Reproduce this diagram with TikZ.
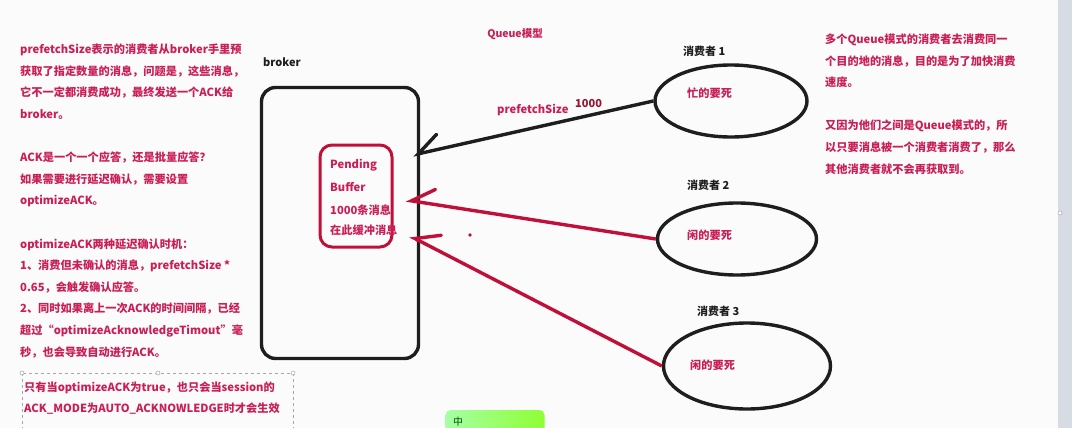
\documentclass[tikz,border=0pt]{standalone}
\usepackage{fontspec}
\setmainfont{Noto Sans CJK SC}
\usetikzlibrary{arrows.meta,shapes.geometric}
\definecolor{txtred}{RGB}{202,30,86}
\definecolor{linered}{RGB}{192,16,58}
\definecolor{darkred}{RGB}{150,20,50}
\definecolor{ink}{RGB}{30,30,30}
\definecolor{bg}{RGB}{251,251,251}
\definecolor{strip}{RGB}{214,219,228}
\tikzset{
  redtxt/.style={text=txtred, font=\bfseries\fontsize{11.2}{21.6}\selectfont, inner sep=0pt, anchor=west, align=left},
  blktxt/.style={text=ink, font=\bfseries\fontsize{11}{21.6}\selectfont, inner sep=0pt, anchor=west},
  consumer/.style={draw=ink, ellipse, line width=3.4pt, inner sep=0pt},
  conn/.style={line width=3.4pt, -{Straight Barb[harpoon,swap,length=22pt,width=30pt,line cap=round]}},
  handle/.style={circle, draw=gray!70, fill=white, inner sep=0pt, minimum size=4pt, line width=0.5pt}
}
\begin{document}
\begin{tikzpicture}[x=1pt,y=-1pt]
\clip (0,0) rectangle (1072,428);
\fill[bg] (0,0) rectangle (1072,428);
\fill[strip] (1058,0) rectangle (1072,428);
\node[handle] (edgeh) at (1060,213) {};

% left explanation
\node[redtxt] (lefttext) at (20,201) {prefetchSize表示的消费者从broker手里预\\
获取了指定数量的消息，问题是，这些消息，\\
它不一定都消费成功，最终发送一个ACK给\\
broker。\\[21.6pt]
ACK是一个一个应答，还是批量应答？\\
如果需要进行延迟确认，需要设置\\
optimizeACK。\\[21.6pt]
optimizeACK两种延迟确认时机：\\
1、消费但未确认的消息，prefetchSize *\\
0.65，会触发确认应答。\\
2、同时如果离上一次ACK的时间间隔，已经\\
超过“optimizeAcknowledgeTimout”毫\\
秒，也会导致自动进行ACK。};

% dashed selection box
\draw[gray!70, dashed, line width=0.6pt] (22,373) rectangle (293,440);
\node[handle] (h1) at (22,373) {};
\node[handle] (h2) at (158,373) {};
\node[handle] (h3) at (293,373) {};
\node[redtxt] (boxtext) at (24,398) {只有当optimizeACK为true，也只会当session的\\
ACK\_MODE为AUTO\_ACKNOWLEDGE时才会生效};

% title and broker
\node[text=txtred, font=\bfseries\fontsize{10.5}{12}\selectfont, inner sep=0pt] (title) at (515,34) {Queue模型};
\node[blktxt] (brokerlbl) at (263,62) {broker};
\node[draw=ink, line width=3.4pt, rounded corners=14pt, minimum width=157pt, minimum height=271pt, inner sep=0pt] (broker) at (340,223) {};

% pending buffer
\node[draw=linered, line width=3pt, rounded corners=12pt, minimum width=72pt, minimum height=102pt, inner sep=0pt] (pb) at (356,196) {};
\node[redtxt] (pb1) at (330,165) {Pending};
\node[redtxt] (pb2) at (330,187) {Buffer};
\node[redtxt] (pb3) at (330,210) {1000条消息};
\node[redtxt] (pb4) at (330,230) {在此缓冲消息};

% consumers
\node[consumer, minimum width=152pt, minimum height=72pt] (c1) at (731,101) {};
\node[consumer, minimum width=159pt, minimum height=72pt] (c2) at (737,239) {};
\node[consumer, minimum width=167pt, minimum height=86pt] (c3) at (747,366) {};
\node[blktxt] (c1l) at (683,51) {消费者 1};
\node[blktxt] (c2l) at (687,185) {消费者 2};
\node[blktxt] (c3l) at (697,311) {消费者 3};
\node[redtxt] (c1t) at (687,93) {忙的要死};
\node[redtxt] (c2t) at (687,235) {闲的要死};
\node[redtxt] (c3t) at (690,365) {闲的要死};

% connectors
\coordinate (t1) at (413,155);
\coordinate (t2) at (406,200);
\coordinate (t3) at (410,236);
\draw[conn, draw=ink] (c1.west) -- (t1);
\draw[conn, draw=linered] (c2.west) -- (t2);
\draw[conn, draw=linered] (c3.west) -- (t3);
\node[redtxt] (pfl) at (497,110) {prefetchSize};
\node[text=darkred, font=\bfseries\fontsize{11}{12}\selectfont, inner sep=0pt, anchor=west] (pfn) at (575,104) {1000};
\fill[linered] (470,235) circle (1.8pt);

% right explanation
\node[redtxt] (righttext) at (825,104) {多个Queue模式的消费者去消费同一\\
个目的地的消息，目的是为了加快消费\\
速度。\\[21.6pt]
又因为他们之间是Queue模式的，所\\
以只要消息被一个消费者消费了，那么\\
其他消费者就不会再获取到。};

% IME toolbar fragment
\node[rounded corners=5pt, left color=green!35!white, right color=green!55!yellow!80!white, minimum width=99pt, minimum height=30pt, inner sep=0pt] (ime) at (495,425) {};
\node[text=green!30!black, font=\fontsize{10}{12}\selectfont, inner sep=0pt] (imechar) at (458,422) {中};
\end{tikzpicture}
\end{document}
